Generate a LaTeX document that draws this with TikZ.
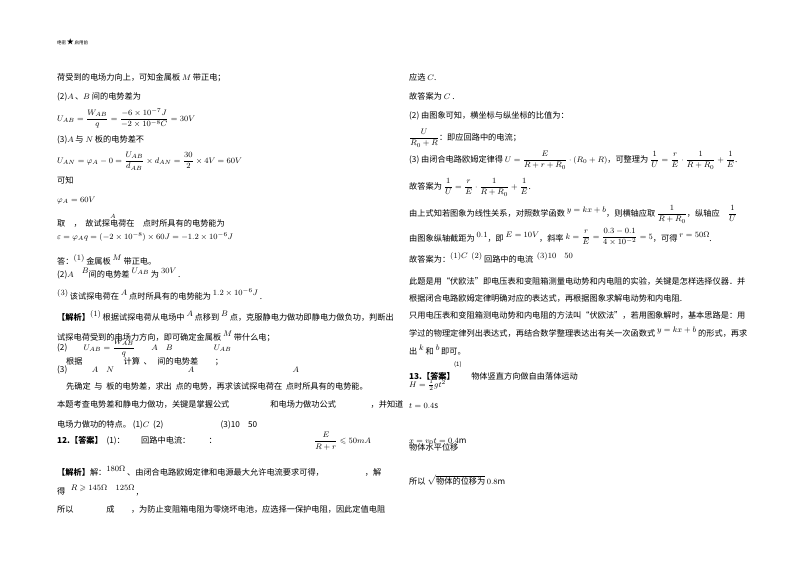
\documentclass[tikz,border=0pt]{standalone}
\usepackage{amsmath,amssymb}
\usepackage{fontspec}
\setmainfont{Noto Sans CJK SC}
\newcommand{\up}[1]{\raisebox{3.5pt}{$#1$}}
\begin{document}
\begin{tikzpicture}[x=1pt,y=-1pt,
  t/.style={anchor=base west,inner sep=0pt,font=\fontsize{8.2}{10}\selectfont},
  s/.style={anchor=base west,inner sep=0pt,font=\fontsize{6}{7}\selectfont}]
\useasboundingbox[fill=white] (0,0) rectangle (800,565);
\node[s] (h) at (57,44) {\fontsize{4.5}{5}\selectfont 绝密\,{\fontsize{7}{7}\selectfont ★}\,启用前};
% left column
\node[t] (l1) at (57,80) {荷受到的电场力向上，可知金属板 $M$ 带正电；};
\node[t] (l2) at (57,99) {(2)$A$\,、$B$ 间的电势差为};
\node[t] (l3) at (57,121) {$U_{AB}=\dfrac{W_{AB}}{q}=\dfrac{-6\times10^{-7}J}{-2\times10^{-8}C}=30V$};
\node[t] (l4) at (57,142) {(3)$A$ 与 $N$ 板的电势差不};
\node[t] (l5) at (57,163) {$U_{AN}=\varphi_A-0=\dfrac{U_{AB}}{d_{AB}}\times d_{AN}=\dfrac{30}{2}\times4V=60V$};
\node[t] (l6) at (57,183) {可知};
\node[t] (l7) at (57,202) {$\varphi_A=60V$};
\node[t] (l8) at (57,226) {取\quad，\ \ 故试探电荷在\quad 点时所具有的电势能为};
\node[s] (l8a) at (110,218) {$A$};
\node[t] (l9) at (57,239) {$\varepsilon=\varphi_Aq=(-2\times10^{-8})\times60J=-1.2\times10^{-6}J$};
\node[t] (l10) at (57,264) {答：\up{(1)} 金属板 \up{M} 带正电。};
\node[t] (l11) at (57,277) {(2)$A$\quad \up{B}间的电势差 \up{U_{AB}} 为 \up{30V} .};
\node[t] (l12) at (57,299) {\up{(3)} 该试探电荷在 \up{A} 点时所具有的电势能为 \up{1.2\times10^{-6}J} .};
\node[t] (l13) at (57,320) {\textbf{【解析】}\up{(1)} 根据试探电荷从电场中 \up{A} 点移到 \up{B} 点，克服静电力做功即静电力做负功，判断出};
\node[t] (l14) at (57,340) {试探电荷受到的电场力方向，即可确定金属板 \up{M} 带什么电；};
\node[t] (l15) at (57,350) {(2)\qquad $U_{AB}=\dfrac{W_{AB}}{q}$\qquad $A$\quad $B$\qquad\qquad\quad $U_{AB}$};
\node[t] (l16) at (66,364) {根据\qquad\qquad\quad 计算\ \ 、\ \ \ 间的电势差\qquad ；};
\node[t] (l17) at (57,372) {(3)\qquad\quad $A$\quad $N$\qquad\qquad\qquad\qquad\quad $A$\qquad\qquad\qquad\qquad\qquad\qquad $A$};
\node[t] (l18) at (66,389) {先确定\ \ 与\ \ 板的电势差，求出\ \ 点的电势，再求该试探电荷在\ \ 点时所具有的电势能。};
\node[t] (l19) at (57,407) {本题考查电势差和静电力做功，关键是掌握公式\qquad\qquad\quad 和电场力做功公式\qquad\qquad\ ，并知道};
\node[t] (l20) at (57,427) {电场力做功的特点。 (1)$C$\ \ (2)\qquad\qquad\qquad\quad (3)10\quad 50};
\node[t] (l21) at (57,443) {\textbf{12.【答案】}\ \ (1)：\qquad 回路中电流：\qquad\ ：};
\node[t] (l21b) at (314,443) {$\dfrac{E}{R+r}\leqslant50mA$};
\node[t] (l22) at (57,475) {\textbf{【解析】}解：\up{180\Omega}\ 、由闭合电路欧姆定律和电源最大允许电流要求可得，\qquad\qquad\quad ，解};
\node[t] (l23) at (57,494) {得\ \ \ \up{R\geqslant145\Omega}\quad \up{125\Omega}\ ,};
\node[t] (l24) at (57,512) {所以\qquad\qquad 成\qquad ，为防止变阻箱电阻为零烧坏电池，应选择一保护电阻，因此定值电阻};
% right column
\node[t] (r1) at (409,80) {应选 $C$.};
\node[t] (r2) at (409,99) {故答案为 $C$ .};
\node[t] (r3) at (409,118) {(2) 由图象可知，横坐标与纵坐标的比值为：};
\node[t] (r4) at (409,140) {$\dfrac{U}{R_0+R}$：即应回路中的电流；};
\node[t] (r5) at (409,162) {(3) 由闭合电路欧姆定律得 $U=\dfrac{E}{R+r+R_0}\cdot(R_0+R)$，可整理为 $\dfrac{1}{U}=\dfrac{r}{E}\cdot\dfrac{1}{R+R_0}+\dfrac{1}{E}$.};
\node[t] (r6) at (409,189) {故答案为 $\dfrac{1}{U}=\dfrac{r}{E}\cdot\dfrac{1}{R+R_0}+\dfrac{1}{E}$.};
\node[t] (r7) at (409,216) {由上式知若图象为线性关系，对照数学函数 \up{y=kx+b}，则横轴应取 $\dfrac{1}{R+R_0}$，纵轴应\quad $\dfrac{1}{U}$};
\node[t] (r8) at (409,241) {由图象纵轴截距为 \up{0.1}，即 \up{E=10V}，斜率 \raisebox{2pt}{$k=\dfrac{r}{E}=\dfrac{0.3-0.1}{4\times10^{-2}}=5$}，可得 \up{r=50\Omega}.};
\node[t] (r9) at (409,262) {故答案为：\up{(1)C}\ \ \up{(2)} 回路中的电流\ \ \up{(3)10\quad50}};
\node[t] (r10) at (409,284) {此题是用“伏欧法”即电压表和变阻箱测量电动势和内电阻的实验，关键是怎样选择仪器．并};
\node[t] (r11) at (409,301) {根据闭合电路欧姆定律明确对应的表达式，再根据图象求解电动势和内电阻.};
\node[t] (r12) at (409,318) {只用电压表和变阻箱测电动势和内电阻的方法叫“伏欧法”，若用图象解时，基本思路是：用};
\node[t] (r13) at (409,336) {学过的物理定律列出表达式，再结合数学整理表达出有关一次函数式 \up{y=kx+b} 的形式，再求};
\node[t] (r14) at (409,354) {出 \up{k} 和 \up{b} 即可。};
\node[s] (r15) at (454,366) {(1)};
\node[t] (r16) at (409,379) {\textbf{13.【答案】}\qquad 物体竖直方向做自由落体运动};
\node[t] (r17) at (409,387) {$H=\frac{1}{2}gt^2$};
\node[t] (r18) at (409,408) {$t=0.4$s};
\node[t] (r19) at (409,443) {$x=v_0t=0.4$m};
\node[t] (r20) at (409,450) {物体水平位移};
\node[t] (r21) at (409,484) {所以 $\sqrt{\vphantom{x}\hbox{物体的位移为}}\,0.8$m};
\end{tikzpicture}
\end{document}
